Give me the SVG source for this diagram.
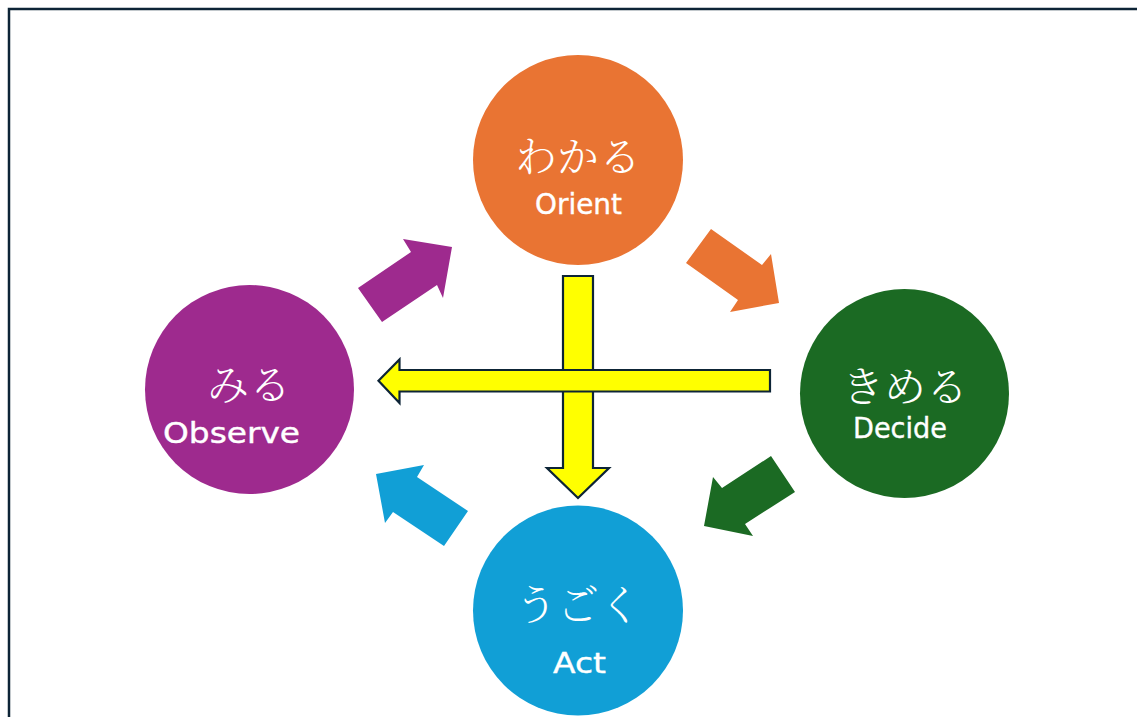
<svg xmlns="http://www.w3.org/2000/svg" width="1137" height="717" viewBox="0 0 1137 717">
  <style>
    .jp { font-family: "Noto Serif CJK JP", "Noto Sans CJK JP", serif; font-weight: 300; font-size: 42px; fill: #ffffff; text-anchor: middle; }
    .en { font-family: "DejaVu Sans", "Noto Sans", sans-serif; font-size: 29px; fill: #ffffff; stroke: #ffffff; stroke-width: 0.4; text-anchor: middle; }
    .flow { stroke: none; }
    .cross { fill: #ffff00; stroke: #0d2436; stroke-width: 2.2; stroke-linejoin: miter; }
  </style>
  <rect width="1137" height="717" fill="#ffffff"/>
  <rect x="9" y="9" width="1160" height="740" fill="none" stroke="#0d2436" stroke-width="2.5"/>

  <g id="connectors">
    <!-- cycle arrows between the four stages -->
    <polygon class="flow" fill="#9e2a8e" points="358,288 382,322 437,285 443,298 452,247 403,239 411,252"/>
    <polygon class="flow" fill="#e97433" points="711,229 686,263 738,300 730,312 779,303 771,254 762,265"/>
    <polygon class="flow" fill="#1b6a23" points="771,456 795,492 745,524 753,536 704,526 713,477 722,488"/>
    <polygon class="flow" fill="#119fd6" points="376,474 424,465 417,477 468,511 444,546 393,512 385,523"/>
    <!-- crossing yellow arrows -->
    <polygon class="cross" points="563,276 593,276 593,468 609,468 578,498 547,468 563,468"/>
    <polygon class="cross" points="770,370 770,391.5 399.5,391.5 399.5,403 378.5,380.8 399.5,359.5 399.5,370"/>
  </g>

  <g id="orient">
    <circle cx="578" cy="160" r="105" fill="#e97433"/>
    <text class="jp" x="578" y="172">わかる</text>
    <text class="en" x="578.5" y="214" textLength="87" lengthAdjust="spacingAndGlyphs">Orient</text>
  </g>
  <g id="observe">
    <circle cx="249.5" cy="389.5" r="104.5" fill="#9e2a8e"/>
    <text class="jp" x="249" y="400">みる</text>
    <text class="en" x="231.5" y="443" textLength="137" lengthAdjust="spacingAndGlyphs">Observe</text>
  </g>
  <g id="decide">
    <circle cx="904.5" cy="393.5" r="104.5" fill="#1b6a23"/>
    <text class="jp" x="905" y="402">きめる</text>
    <text class="en" x="900" y="438" textLength="94" lengthAdjust="spacingAndGlyphs">Decide</text>
  </g>
  <g id="act">
    <circle cx="578" cy="610.5" r="105" fill="#119fd6"/>
    <text class="jp" x="578" y="620">うごく</text>
    <text class="en" x="579.5" y="673" font-size="36" textLength="53" lengthAdjust="spacingAndGlyphs">Act</text>
  </g>
</svg>
